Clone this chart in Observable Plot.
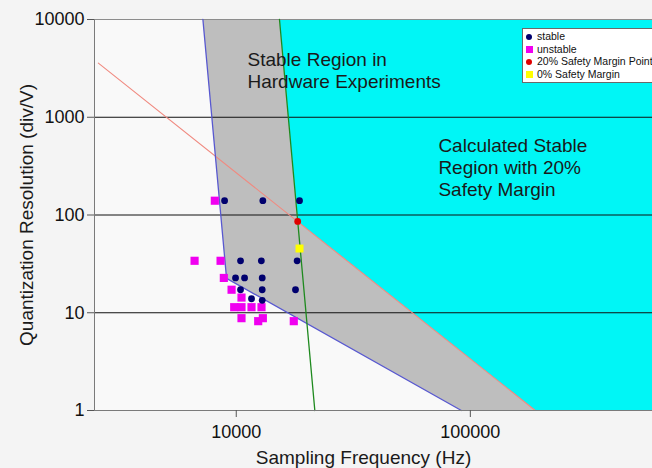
<!DOCTYPE html>
<html>
<head>
<meta charset="utf-8">
<script src="https://cdn.jsdelivr.net/npm/d3@7"></script>
<script src="https://cdn.jsdelivr.net/npm/@observablehq/plot@0.6"></script>
<style>
  html, body { margin: 0; padding: 0; background: #f4f4f4; overflow: hidden; }
  #wrap { position: relative; width: 652px; height: 468px; overflow: hidden; }
  #legend { position: absolute; left: 522px; top: 28px; width: 150px; height: 55px;
    background: #ffffff; border: 1px solid #6a6a6a; box-sizing: border-box;
    font-family: 'Liberation Sans', Arial, sans-serif; font-size: 10.5px; color: #111; padding-top: 1px; }
  .li { position: relative; height: 12.6px; line-height: 12.6px; white-space: nowrap; padding-left: 14px; }
  .mk { position: absolute; left: 3px; top: 3px; width: 7px; height: 7px; }
</style>
</head>
<body>
<div id="wrap"></div>
<script>
// ---- tick values ----
const xTicks = [10000, 100000];
const yTicks = [1, 10, 100, 1000, 10000];

// ---- experimental points (Hz, div/V) ----
const stableFreq = [8915, 12990, 18630, 10430, 12800, 18200, 9930, 10850, 12910, 10430, 12910, 17910, 11620, 12910];
const stableRes  = [140, 140, 140, 34, 34, 34, 22.7, 22.7, 22.7, 17.2, 17.2, 17.2, 13.9, 13.4];
const unstableFreq = [8100, 6637, 8570, 8850, 9550, 10530, 9800, 10530, 11620, 12820, 10530, 12990, 12410, 17610];
const unstableRes  = [140, 34, 34, 22.7, 17.2, 14.3, 11.4, 11.4, 11.4, 11.4, 8.8, 8.8, 8.2, 8.2];
const margin20Freq = [18300];
const margin20Res  = [86];
const margin0Freq = [18630];
const margin0Res  = [45.4];

// ---- boundary lines ----
const blueFreq = [7203, 9090, 91540];
const blueRes  = [10000, 22.5, 1];
const greenFreq = [15300, 21660];
const greenRes  = [10000, 1];
const redFreq = [2576, 189400];
const redRes  = [3575, 1];

// ---- regions ----
const grayFreq = [7203, 15300, 18310, 189400, 91540, 9090];
const grayRes  = [10000, 10000, 85.5, 1, 1, 22.5];
const cyanFreq = [15300, 600000, 600000, 189400, 18310];
const cyanRes  = [10000, 10000, 1, 1, 85.5];

// ---- annotations ----
const noteText = ["Stable Region in\nHardware Experiments", "Calculated Stable\nRegion with 20%\nSafety Margin"];
const noteFreq = [11170, 73030];
const noteRes  = [3074, 309];

// ---- legend ----
const legendLabels = ["stable", "unstable", "20% Safety Margin Point", "0% Safety Margin"];
const legendColors = ["#00006e", "#f000f0", "#e00000", "#ffff00"];
const legendShapes = ["circle", "square", "circle", "square"];

const pts = (xs, ys) => xs.map((x, i) => ({x, y: ys[i]}));

const chart = Plot.plot({
  width: 652, height: 468,
  marginLeft: 94, marginRight: 0, marginTop: 19, marginBottom: 58,
  style: {background: "#f4f4f4", fontFamily: "'Liberation Sans', Arial, sans-serif", fontSize: "18px", color: "#111"},
  x: {type: "log", domain: [2480, 600000]},
  y: {type: "log", domain: [1, 10000]},
  marks: [
    Plot.frame({fill: "#f9f9f9", stroke: null}),
    Plot.line(pts(cyanFreq, cyanRes), {x: "x", y: "y", fill: "#00f6f6", stroke: "none"}),
    Plot.line(pts(grayFreq, grayRes), {x: "x", y: "y", fill: "#bebebe", stroke: "none"}),
    Plot.ruleY([10, 100, 1000], {stroke: "#111", strokeWidth: 1}),
    Plot.ruleY([10000], {stroke: "#8c8c8c", strokeWidth: 1}),
    Plot.line(pts(redFreq, redRes), {x: "x", y: "y", stroke: "#f08a80", strokeWidth: 1.1}),
    Plot.line(pts(blueFreq, blueRes), {x: "x", y: "y", stroke: "#5858d0", strokeWidth: 1.3}),
    Plot.line(pts(greenFreq, greenRes), {x: "x", y: "y", stroke: "#1f8a1f", strokeWidth: 1.3}),
    Plot.dot(pts(unstableFreq, unstableRes), {x: "x", y: "y", symbol: "square", r: 4.6, fill: "#f000f0", stroke: "none"}),
    Plot.dot(pts(stableFreq, stableRes), {x: "x", y: "y", r: 3.4, fill: "#00006e", stroke: "none"}),
    Plot.dot(pts(margin0Freq, margin0Res), {x: "x", y: "y", symbol: "square", r: 4.5, fill: "#ffff00", stroke: "none"}),
    Plot.dot(pts(margin20Freq, margin20Res), {x: "x", y: "y", r: 3.4, fill: "#e00000", stroke: "none"}),
    Plot.text(noteText.map((t, i) => ({t, x: noteFreq[i], y: noteRes[i]})),
      {x: "x", y: "y", text: "t", textAnchor: "start", lineAnchor: "middle", lineHeight: 1.17, fontSize: 19, fill: "#1a1a1a"}),
    Plot.ruleX([2480], {stroke: "#7a7a7a", strokeWidth: 1}),
    Plot.ruleY([1], {stroke: "#7a7a7a", strokeWidth: 1.2}),
    Plot.axisX({ticks: xTicks, tickFormat: d => String(d), tickSize: 7, tickPadding: 8, stroke: "#555", label: null, fontSize: 18}),
    Plot.axisY({ticks: yTicks, tickFormat: d => String(d), tickSize: 7, tickPadding: 3, stroke: "#555", label: null, fontSize: 18}),
    Plot.text(["Sampling Frequency (Hz)"], {frameAnchor: "bottom", textAnchor: "middle", lineAnchor: "middle", dy: 47, dx: -10, fontSize: 19, fill: "#1a1a1a"}),
    Plot.text(["Quantization Resolution (div/V)"], {frameAnchor: "left", textAnchor: "middle", lineAnchor: "middle", dx: -68, rotate: -90, fontSize: 19, fill: "#1a1a1a"})
  ]
});

const wrap = document.getElementById("wrap");
wrap.appendChild(chart);

const legend = document.createElement("div");
legend.id = "legend";
legendLabels.forEach((lab, i) => {
  const row = document.createElement("div");
  row.className = "li";
  const mk = document.createElement("span");
  mk.className = "mk";
  mk.style.background = legendColors[i];
  if (legendShapes[i] === "circle") { mk.style.borderRadius = "50%"; mk.style.width = "6px"; mk.style.height = "6px"; mk.style.top = "3.5px"; }
  row.appendChild(mk);
  row.appendChild(document.createTextNode(lab));
  legend.appendChild(row);
});
wrap.appendChild(legend);
</script>
</body>
</html>
